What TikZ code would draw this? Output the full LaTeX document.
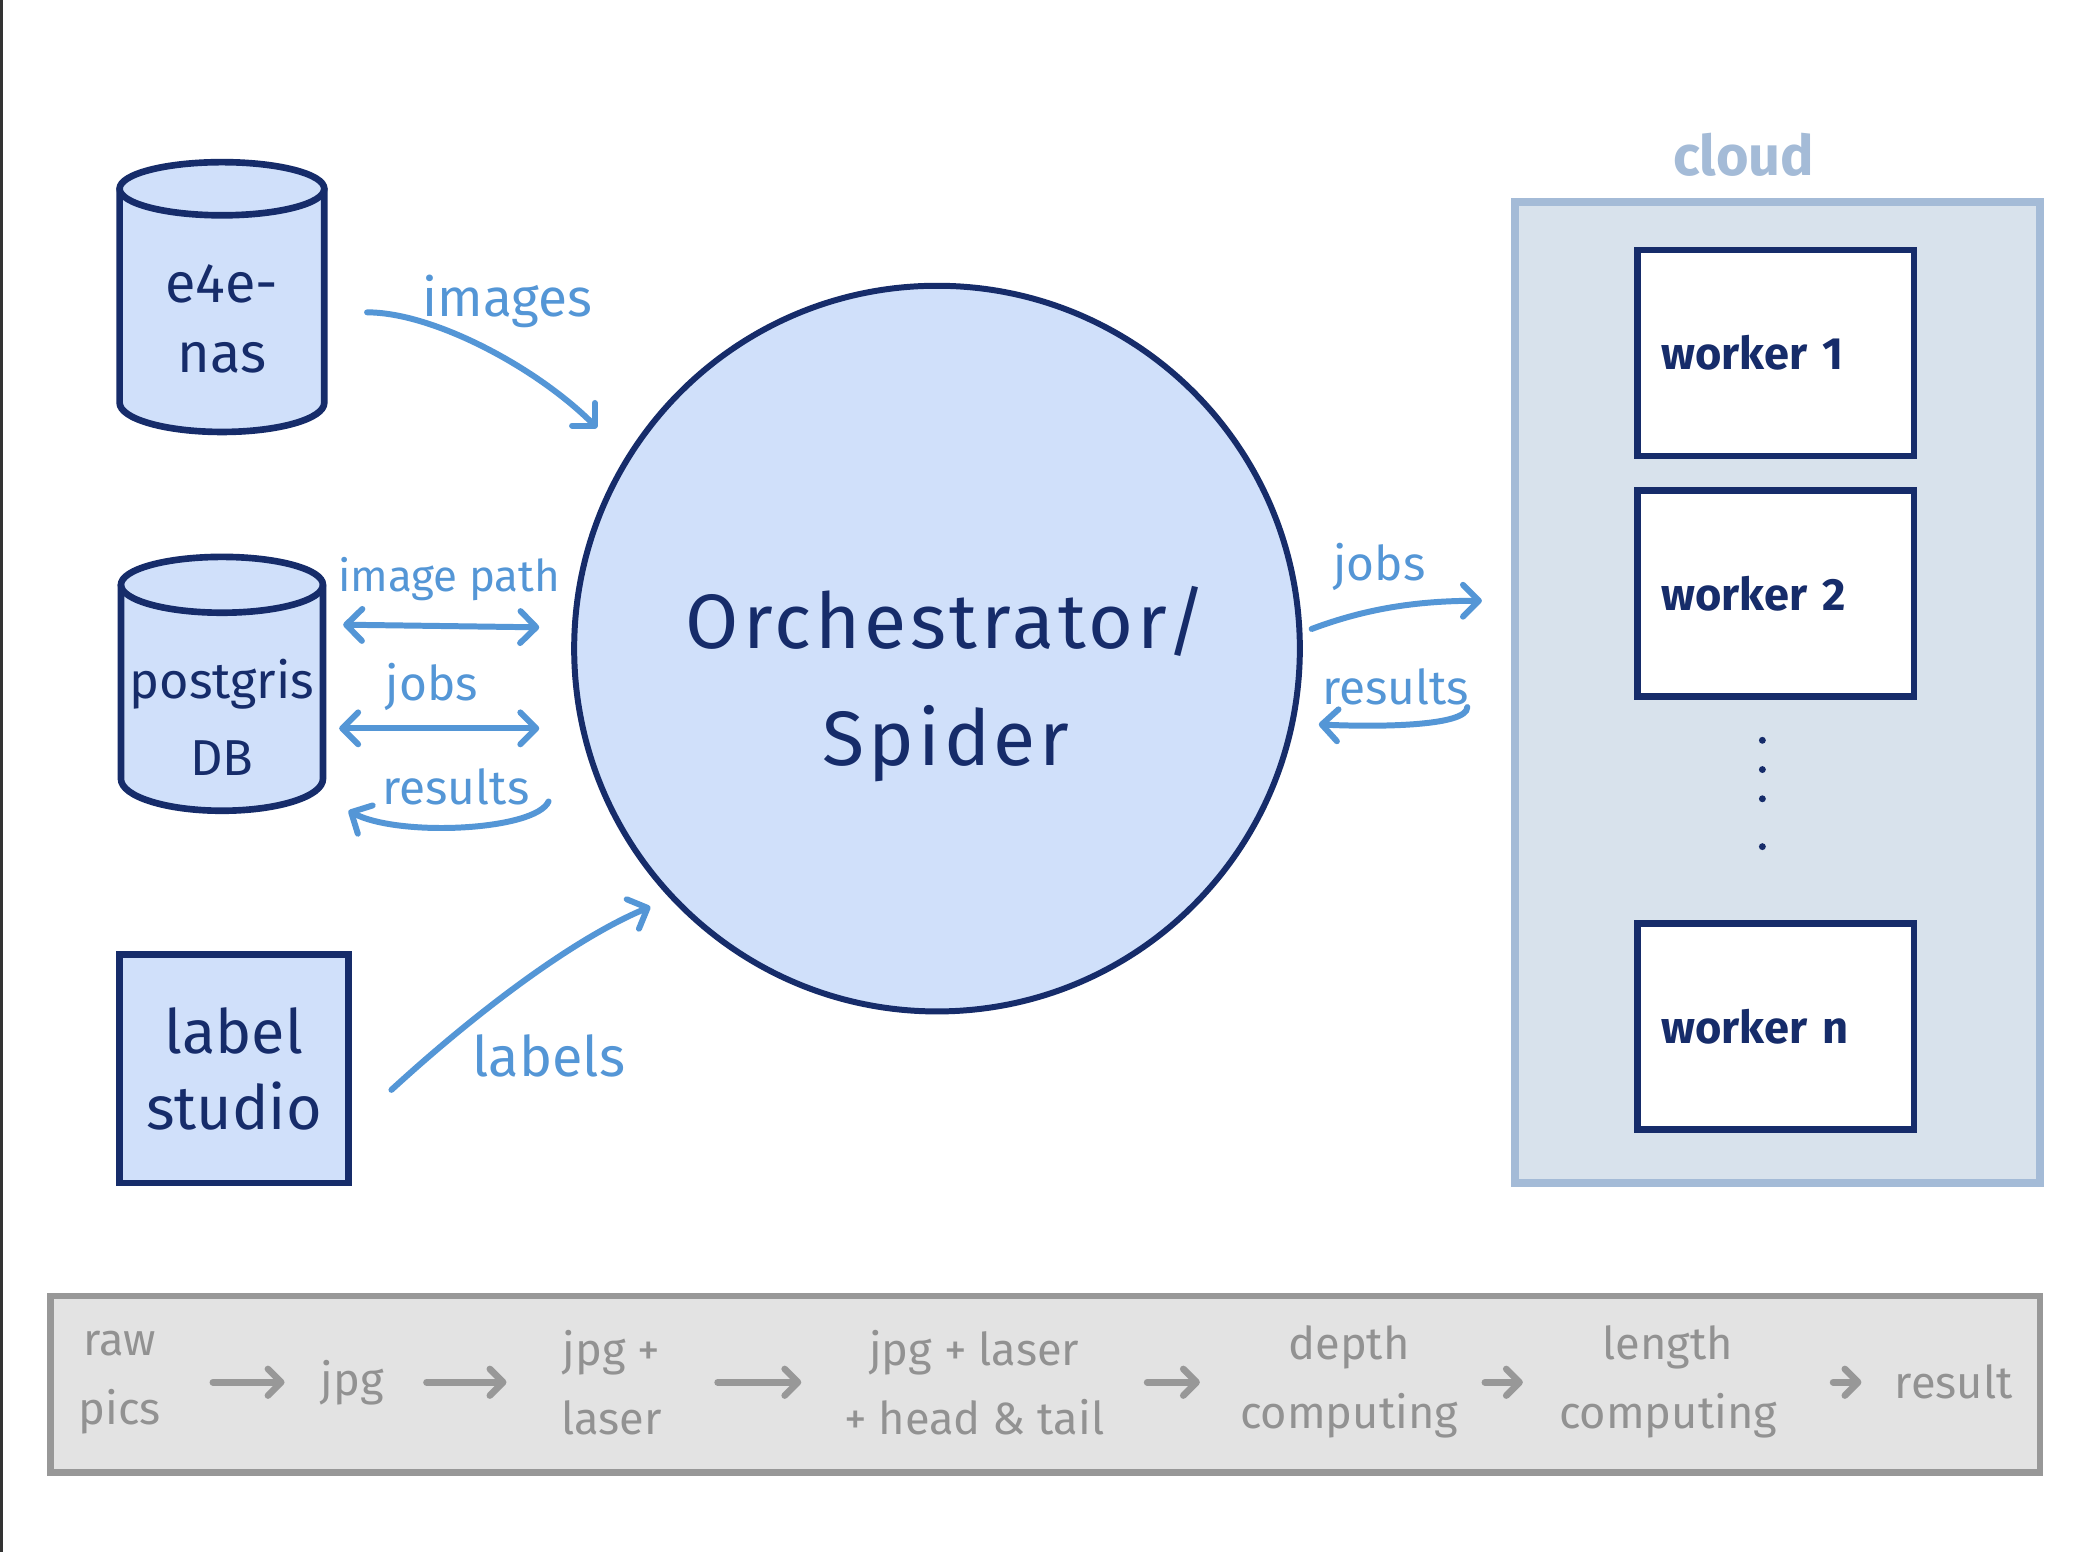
\documentclass[tikz,border=0pt]{standalone}
\usepackage{fontspec}
\setmainfont{Fira Sans}
\usetikzlibrary{arrows.meta,calc}
\definecolor{navy}{RGB}{22,44,106}
\definecolor{fillblue}{RGB}{208,224,250}
\definecolor{arrblue}{RGB}{84,150,214}
\definecolor{cloudfill}{RGB}{216,226,236}
\definecolor{cloudline}{RGB}{164,187,215}
\definecolor{barfill}{RGB}{227,227,227}
\definecolor{barline}{RGB}{152,152,152}
\definecolor{bartext}{RGB}{146,146,146}
\begin{document}
\begin{tikzpicture}[x=1pt,y=-1pt,
  navyline/.style={draw=navy,line width=5pt,line cap=round,line join=round},
  barrow/.style={draw=arrblue,line width=4.5pt,line cap=round,-{Straight Barb[length=12pt,width=24pt,round]}},
  bdarrow/.style={draw=arrblue,line width=4.5pt,line cap=round,{Straight Barb[length=12pt,width=24pt,round]}-{Straight Barb[length=12pt,width=24pt,round]}},
  garrow/.style={draw=barline,line width=5pt,line cap=round,-{Straight Barb[length=10pt,width=20pt,round]}},
  lbl/.style={text=arrblue,font=\fontsize{36}{40}\selectfont,anchor=base,inner sep=0pt},
  navytxt/.style={text=navy,align=center,inner sep=0pt},
  worker/.style={draw=navy,line width=5pt,fill=white,minimum width=208pt,minimum height=155pt,inner sep=0pt,text width=172pt,align=left,text=navy,font=\bfseries\fontsize{34}{40}\selectfont},
  bartxt/.style={text=bartext,align=center,font=\fontsize{34}{52}\selectfont,inner sep=0pt},
  dot/.style={fill=navy}
]
% page
\fill[white] (0,0) rectangle (1568,1168);
\fill[black!80] (0,0) rectangle (2.2,1168);
\useasboundingbox (0,0) rectangle (1568,1168);

% e4e-nas cylinder
\fill[fillblue] (90,142) -- (90,303) arc[start angle=180,end angle=0,x radius=77,y radius=22] -- (244,142) arc[start angle=0,end angle=-180,x radius=77,y radius=20] -- cycle;
\draw[navyline] (167,142) ellipse [x radius=77,y radius=20];
\draw[navyline] (90,142) -- (90,303) arc[start angle=180,end angle=0,x radius=77,y radius=22] -- (244,142);
\node[navytxt,font=\fontsize{42}{53}\selectfont,minimum width=154pt,minimum height=203pt] (e4e) at (167,240) {e4e-\\nas};

% postgris cylinder
\fill[fillblue] (91,440) -- (91,586) arc[start angle=180,end angle=0,x radius=76,y radius=24] -- (243,440) arc[start angle=0,end angle=-180,x radius=76,y radius=21] -- cycle;
\draw[navyline] (167,440) ellipse [x radius=76,y radius=21];
\draw[navyline] (91,440) -- (91,586) arc[start angle=180,end angle=0,x radius=76,y radius=24] -- (243,440);
\node[navytxt,font=\fontsize{38}{58}\selectfont,minimum width=152pt,minimum height=190pt] (pg) at (167,540) {postgris\\DB};

% label studio
\node[navytxt,draw=navy,line width=5pt,fill=fillblue,minimum width=172pt,minimum height=172pt,font=\fontsize{46}{57}\selectfont] (ls) at (176,804) {label\\studio};

% orchestrator
\node[circle,draw=navy,line width=4.5pt,fill=fillblue,minimum size=546pt,inner sep=0pt] (orch) at (705,488) {};
\node[navytxt,font=\fontsize{58}{88}\selectfont\addfontfeature{LetterSpace=5}] (orchtxt) at (712,515) {Orchestrator/\\Spider};

% cloud
\node[draw=cloudline,line width=6pt,fill=cloudfill,minimum width=395pt,minimum height=738pt,inner sep=0pt] (cloud) at (1337.5,521) {};
\node[text=cloudline,font=\bfseries\fontsize{42}{42}\selectfont,anchor=base,inner sep=0pt] (cloudlbl) at (1312,132) {cloud};
\node[worker] (w1) at (1336,265.5) {worker 1};
\node[worker] (w2) at (1336,446.5) {worker 2};
\node[worker] (wn) at (1336,772.5) {worker n};
\fill[dot] (1326,557) circle[radius=2.6];
\fill[dot] (1326,579) circle[radius=2.6];
\fill[dot] (1326,601) circle[radius=2.6];
\fill[dot] (1326,637) circle[radius=2.6];

% left connectors
\draw[barrow] ([shift={(32,-5)}]e4e.east) .. controls +(50,0) and +(-45,-45) .. ($(orch.147)!-30pt!(orch.center)$);
\node[lbl,font=\fontsize{40}{44}\selectfont] (limg) at (382,238) {images};
\draw[bdarrow] ([shift={(15,-70)}]pg.east) -- ([shift={(-24,-16)}]orch.west);
\node[lbl,font=\fontsize{33}{40}\selectfont] (lpath) at (338,445) {image path};
\draw[bdarrow] ([shift={(12,8)}]pg.east) -- ([shift={(-24,60)}]orch.west);
\node[lbl] (ljobs) at (325,527) {jobs};
\draw[barrow] ([shift={(-17,115)}]orch.west) .. controls +(-10,22) and +(38,20) .. ([shift={(19,70)}]pg.east);
\node[lbl] (lres) at (343,605) {results};
\draw[barrow] ([shift={(30,16)}]ls.east) .. controls +(60,-55) and +(-60,25) .. ($(orch.222)!-15pt!(orch.center)$);
\node[lbl,font=\fontsize{42}{46}\selectfont] (llab) at (413,810) {labels};

% right connectors
\draw[barrow] ($(orch.3)!-7pt!(orch.center)$) .. controls +(40,-15) and +(-50,0) .. ([shift={(-22,-69)}]cloud.west);
\node[lbl] (rjobs) at (1038,437) {jobs};
\draw[barrow] ([shift={(-33,11)}]cloud.west) .. controls +(0,15) and +(40,2) .. ([shift={(12,57)}]orch.east);
\node[lbl] (rres) at (1050,530) {results};

% pipeline bar
\node[draw=barline,line width=5pt,fill=barfill,minimum width=1497pt,minimum height=133pt,inner sep=0pt] (bar) at (786.5,1041.5) {};
\node[bartxt] (raw) at (90,1040) {raw\\pics};
\node[bartext,bartxt] (jpg) at (265,1040) {jpg};
\node[bartxt] (jl) at (460,1040) {jpg +\\laser};
\node[bartxt] (jlht) at (733,1040) {jpg + laser\\+ head \& tail};
\node[bartxt] (depth) at (1015,1040) {depth\\computing};
\node[bartxt] (length) at (1255,1040) {length\\computing};
\node[bartxt] (result) at (1470,1040) {result};
\draw[garrow,shorten <=39pt,shorten >=27pt] (raw.east) -- (raw.east -| jpg.west);
\draw[garrow,shorten <=32pt,shorten >=41pt] (jpg.east) -- (jpg.east -| jl.west);
\draw[garrow,shorten <=42pt,shorten >=32pt] (jl.east) -- (jl.east -| jlht.west);
\draw[garrow,shorten <=32pt,shorten >=30pt] (jlht.east) -- (jlht.east -| depth.west);
\draw[garrow,shorten <=20pt,shorten >=27pt] (depth.east) -- (depth.east -| length.west);
\draw[garrow,shorten <=42pt,shorten >=25pt] (length.east) -- (length.east -| result.west);
\end{tikzpicture}
\end{document}
